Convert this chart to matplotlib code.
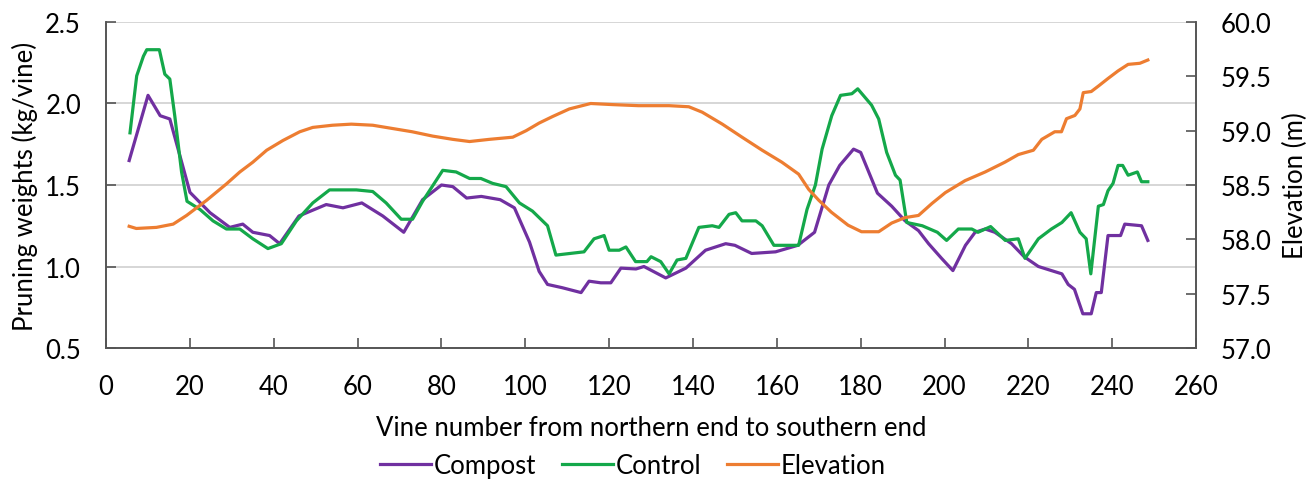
import matplotlib
matplotlib.use('Agg')
import matplotlib.pyplot as plt

plt.rcParams['font.family'] = ['Lato', 'DejaVu Sans']

# vine positions and values
vine_compost = [5.5, 10, 12.9, 15.2, 17.6, 20, 24.8, 29.5, 32.6, 35, 39, 41.4, 46, 52.5, 56.5, 61, 66, 71,
                75.5, 80, 82.7, 86, 89.5, 94, 97.4, 101, 103.3, 105.3, 108.8, 113.3, 115.2, 118, 120.4,
                122.8, 126.4, 128.3, 133.5, 138.3, 143, 147.8, 150, 154, 159.7, 165, 169, 172.4, 175,
                178.3, 180, 184, 187.4, 190.6, 193.8, 196.2, 199.3, 202, 205, 207.3, 209.7, 212, 216,
                219, 222.4, 225.5, 228, 229.5, 231, 233, 235, 236.2, 237.4, 239, 242, 243, 247, 248.5]
compost = [1.65, 2.05, 1.925, 1.905, 1.68, 1.455, 1.33, 1.24, 1.26, 1.21, 1.19, 1.14, 1.31, 1.38, 1.36,
           1.39, 1.31, 1.21, 1.41, 1.50, 1.49, 1.42, 1.43, 1.41, 1.36, 1.15, 0.97, 0.89, 0.87, 0.84,
           0.91, 0.90, 0.90, 0.99, 0.985, 1.00, 0.93, 0.99, 1.10, 1.14, 1.13, 1.08, 1.09, 1.13, 1.21,
           1.50, 1.62, 1.72, 1.70, 1.45, 1.37, 1.28, 1.22, 1.14, 1.05, 0.975, 1.13, 1.21, 1.23, 1.21,
           1.14, 1.06, 1.00, 0.975, 0.955, 0.89, 0.86, 0.71, 0.71, 0.84, 0.84, 1.19, 1.19, 1.26,
           1.25, 1.16]

vine_control = [5.7, 7.3, 8.9, 9.7, 12.7, 14, 15.2, 16.4, 18, 19.3, 22.4, 25.5, 28.7, 31.9, 35, 38.6,
                41.8, 45.4, 49.3, 53.3, 59.7, 63.6, 66.8, 70.4, 73.1, 75.5, 80.3, 83.5, 86.7, 89.4, 92.2,
                95.4, 98.6, 101.7, 105.3, 107.3, 114, 116.4, 118.8, 120, 122.4, 124, 126.3, 129, 130,
                132.3, 134.3, 136.2, 138.3, 141.4, 144.6, 146.2, 148.6, 150.2, 151.7, 155, 156.5, 159.3,
                165.2, 167.2, 169.2, 170.8, 173.1, 175.2, 177.9, 179.3, 182.6, 184.3, 186.2, 188.3,
                189.4, 191, 194.7, 198.3, 200.5, 203.3, 206.5, 208, 211, 214.5, 217.6, 219.2, 222.4,
                225.5, 228, 230.2, 232.3, 233.8, 234.9, 236.7, 237.9, 239, 240.2, 241.4, 242.5, 243.8,
                246, 247, 248.5]
control = [1.82, 2.17, 2.29, 2.33, 2.33, 2.18, 2.15, 1.92, 1.58, 1.40, 1.35, 1.28, 1.23, 1.23, 1.17,
           1.11, 1.14, 1.28, 1.39, 1.47, 1.47, 1.46, 1.39, 1.29, 1.29, 1.40, 1.59, 1.58, 1.54, 1.54,
           1.51, 1.49, 1.39, 1.34, 1.25, 1.07, 1.09, 1.17, 1.19, 1.10, 1.10, 1.12, 1.03, 1.03, 1.06,
           1.03, 0.955, 1.04, 1.05, 1.24, 1.25, 1.24, 1.32, 1.33, 1.28, 1.28, 1.25, 1.13, 1.13, 1.35,
           1.50, 1.72, 1.925, 2.05, 2.06, 2.09, 1.99, 1.905, 1.70, 1.56, 1.53, 1.27, 1.25, 1.21, 1.16,
           1.23, 1.23, 1.21, 1.245, 1.16, 1.17, 1.05, 1.17, 1.23, 1.27, 1.33, 1.21, 1.17, 0.955, 1.37,
           1.38, 1.465, 1.51, 1.62, 1.62, 1.56, 1.58, 1.52, 1.52]

vine_elev = [5.5, 7.2, 12, 16, 19.2, 24, 28.7, 31.9, 35, 38.3, 42.2, 46.2, 49.3, 54, 58.5, 63.6, 68.3,
             73, 77.9, 82.7, 86.7, 91.4, 97, 100.2, 103.3, 106.5, 110.5, 115.6, 120.7, 127, 134.3, 139,
             142.2, 147, 151.7, 156.5, 161.2, 165.2, 167.6, 170, 173, 177, 180.2, 184.3, 187.4, 190.6,
             193.8, 197, 200.2, 204.9, 209.7, 214.4, 217.6, 221.2, 223.2, 226.3, 227.9, 229.1, 231.1,
             232.3, 233.1, 235, 236.7, 239, 241.4, 243.8, 246.6, 248.5]
elevation = [58.12, 58.10, 58.11, 58.14, 58.22, 58.36, 58.51, 58.62, 58.71, 58.82, 58.91, 58.99, 59.03,
             59.05, 59.06, 59.05, 59.02, 58.99, 58.95, 58.92, 58.90, 58.92, 58.94, 59.00, 59.07, 59.13,
             59.20, 59.25, 59.24, 59.23, 59.23, 59.22, 59.17, 59.06, 58.94, 58.82, 58.71, 58.60, 58.46,
             58.36, 58.25, 58.13, 58.07, 58.07, 58.15, 58.20, 58.22, 58.33, 58.43, 58.54, 58.62, 58.71,
             58.78, 58.82, 58.92, 58.99, 58.99, 59.11, 59.14, 59.20, 59.35, 59.36, 59.41, 59.48, 59.55,
             59.61, 59.62, 59.65]

c_compost = '#7030A0'
c_control = '#14A84A'
c_elev = '#ED7D31'
fs = 18.5

fig = plt.figure(figsize=(13.1, 4.81), dpi=100)
ax = fig.add_axes([0.081, 0.2744, 0.832, 0.6778])
ax2 = ax.twinx()

l1, = ax.plot(vine_compost, compost, color=c_compost, lw=2.3, label='Compost')
l2, = ax.plot(vine_control, control, color=c_control, lw=2.3, label='Control')
l3, = ax2.plot(vine_elev, elevation, color=c_elev, lw=2.3, label='Elevation')

ax.set_xlim(0, 260)
ax.set_ylim(0.5, 2.5)
ax2.set_ylim(57.0, 60.0)
ax.set_xticks(range(0, 261, 20))
ax.set_yticks([0.5, 1.0, 1.5, 2.0, 2.5])
ax.set_yticklabels(['0.5', '1.0', '1.5', '2.0', '2.5'])
ax2.set_yticks([57.0, 57.5, 58.0, 58.5, 59.0, 59.5, 60.0])
ax2.set_yticklabels(['57.0', '57.5', '58.0', '58.5', '59.0', '59.5', '60.0'])

ax.grid(axis='y', color='#D3D3D3', lw=1.3)
ax.set_axisbelow(True)
for a in (ax, ax2):
    a.spines['top'].set_visible(False)
    for s in ('left', 'right', 'bottom'):
        a.spines[s].set_color('#555555')
        a.spines[s].set_linewidth(1.2)
    a.tick_params(direction='in', length=7, width=1.2, color='#555555', labelsize=fs, pad=18)
ax.tick_params(axis='x', pad=19)

ax.set_xlabel('Vine number from northern end to southern end', fontsize=fs, labelpad=11)
ax.set_ylabel('Pruning weights (kg/vine)', fontsize=fs, labelpad=5)
ax2.set_ylabel('Elevation (m)', fontsize=fs, labelpad=8)

fig.legend([l1, l2, l3], ['Compost', 'Control', 'Elevation'], loc='center',
           bbox_to_anchor=(0.483, 0.031), ncol=3, frameon=False, fontsize=fs,
           handlelength=2.0, handletextpad=0.1, columnspacing=1.0)

fig.savefig('out.png', dpi=100)
